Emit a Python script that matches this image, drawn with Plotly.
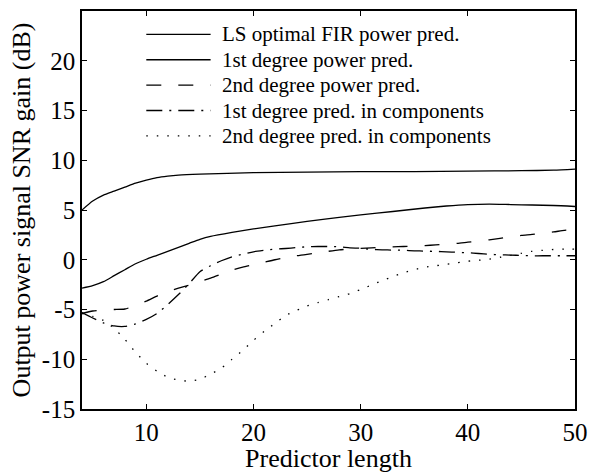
import plotly.graph_objects as go

x_ls = [4, 5, 6, 7, 8, 9, 10, 11, 12, 13, 15, 20, 25, 30, 35, 40, 45, 48, 50]
y_ls = [5.0, 5.9, 6.5, 6.9, 7.3, 7.7, 8.0, 8.25, 8.4, 8.5, 8.6, 8.75, 8.8, 8.85, 8.85, 8.9, 8.95, 9.0, 9.1]

x_p1 = [4, 5, 6, 7, 8, 9, 10, 11, 12, 13, 14, 15, 16, 18, 20, 22, 25, 28, 30, 33, 36, 38, 40, 42, 44, 46, 48, 50]
y_p1 = [-2.85, -2.6, -2.2, -1.6, -1.0, -0.4, 0.05, 0.45, 0.85, 1.25, 1.65, 2.05, 2.35, 2.75, 3.1, 3.4, 3.85, 4.25,
        4.5, 4.85, 5.2, 5.4, 5.55, 5.6, 5.55, 5.5, 5.45, 5.35]

x_all = list(range(4, 51))
y_p2 = [-5.4, -5.15, -5.05, -5.0, -4.95, -4.6, -4.15, -3.65, -3.2, -2.85, -2.55, -2.2, -1.85, -1.45, -1.05, -0.75,
        -0.5, -0.25, 0.0, 0.2, 0.4, 0.55, 0.68, 0.85, 1.0, 1.07, 1.15, 1.2, 1.25, 1.3, 1.33, 1.37, 1.42, 1.5, 1.58,
        1.65, 1.77, 1.88, 2.0, 2.15, 2.3, 2.45, 2.55, 2.68, 2.8, 2.95, 3.05]
y_c1 = [-5.3, -5.85, -6.35, -6.65, -6.7, -6.45, -6.0, -5.4, -4.5, -3.5, -2.4, -1.2, -0.6, -0.1, 0.3, 0.55, 0.8,
        0.95, 1.07, 1.13, 1.22, 1.3, 1.33, 1.33, 1.3, 1.2, 1.15, 1.05, 1.0, 0.97, 0.95, 0.9, 0.87, 0.84, 0.8, 0.75,
        0.7, 0.63, 0.55, 0.5, 0.47, 0.43, 0.4, 0.4, 0.4, 0.4, 0.4]
y_c2 = [-5.4, -5.7, -6.1, -6.9, -8.0, -9.3, -10.4, -11.2, -11.8, -12.1, -12.2, -12.0, -11.5, -10.9, -10.0, -9.1,
        -8.1, -7.2, -6.4, -5.6, -5.1, -4.65, -4.3, -4.0, -3.7, -3.4, -3.0, -2.55, -2.1, -1.7, -1.3, -1.0, -0.75,
        -0.6, -0.45, -0.3, -0.15, -0.05, 0.07, 0.25, 0.45, 0.65, 0.85, 0.95, 1.03, 1.07, 1.07]

labels = ["LS optimal FIR power pred.", "1st degree power pred.", "2nd degree power pred.",
          "1st degree pred. in components", "2nd degree pred. in components"]
x_ticks = [10, 20, 30, 40, 50]
y_ticks = [-15, -10, -5, 0, 5, 10, 15, 20]
y_ticktext = ["-15", "-10", "-5", "0", "5", "10", "15", "20"]

DASH = "15px,17px"
DASHDOT = "16px,7px,2px,7px"
DOT = "1.5px,9px"
dashes = ["solid", "solid", DASH, DASHDOT, DOT]
series = [(x_ls, y_ls), (x_p1, y_p1), (x_all, y_p2), (x_all, y_c1), (x_all, y_c2)]

FONT = "Liberation Serif"
fig = go.Figure()
for (xs, ys), d, name in zip(series, dashes, labels):
    fig.add_trace(go.Scatter(x=xs, y=ys, mode="lines", name=name,
                             line=dict(color="black", width=1.3, dash=d, shape="spline", smoothing=0.6),
                             showlegend=False))

# manual legend (long line samples as in the original)
leg_y = [22.65, 20.1, 17.55, 15.0, 12.45]
for yy, d, name in zip(leg_y, dashes, labels):
    fig.add_trace(go.Scatter(x=[10, 16], y=[yy, yy], mode="lines",
                             line=dict(color="black", width=1.3, dash=d), showlegend=False,
                             hoverinfo="skip"))
    fig.add_annotation(x=16.85, y=yy, text=name, showarrow=False, xanchor="left", yanchor="middle",
                       font=dict(family=FONT, size=21, color="black"))

axis_common = dict(showline=True, linecolor="black", linewidth=1.6, mirror="ticks", ticks="inside",
                   ticklen=5, tickcolor="black", tickwidth=1, showgrid=False, zeroline=False,
                   automargin=False, tickfont=dict(family=FONT, size=25, color="black"))
fig.update_xaxes(range=[4, 50], tickvals=x_ticks,
                 title=dict(text="Predictor length", font=dict(family=FONT, size=26, color="black"), standoff=0),
                 **axis_common)
fig.update_yaxes(range=[-15, 25], tickvals=y_ticks, ticktext=y_ticktext,
                 title=dict(text="Output power signal SNR gain (dB)", font=dict(family=FONT, size=26, color="black"),
                            standoff=4),
                 **axis_common)
fig.update_layout(width=589, height=473, margin=dict(l=82, r=14, t=11, b=64),
                  plot_bgcolor="white", paper_bgcolor="white", font=dict(family=FONT, color="black"))
fig.write_html("out.html", post_script="document.body.style.margin='0';",
               config={"displayModeBar": False})
